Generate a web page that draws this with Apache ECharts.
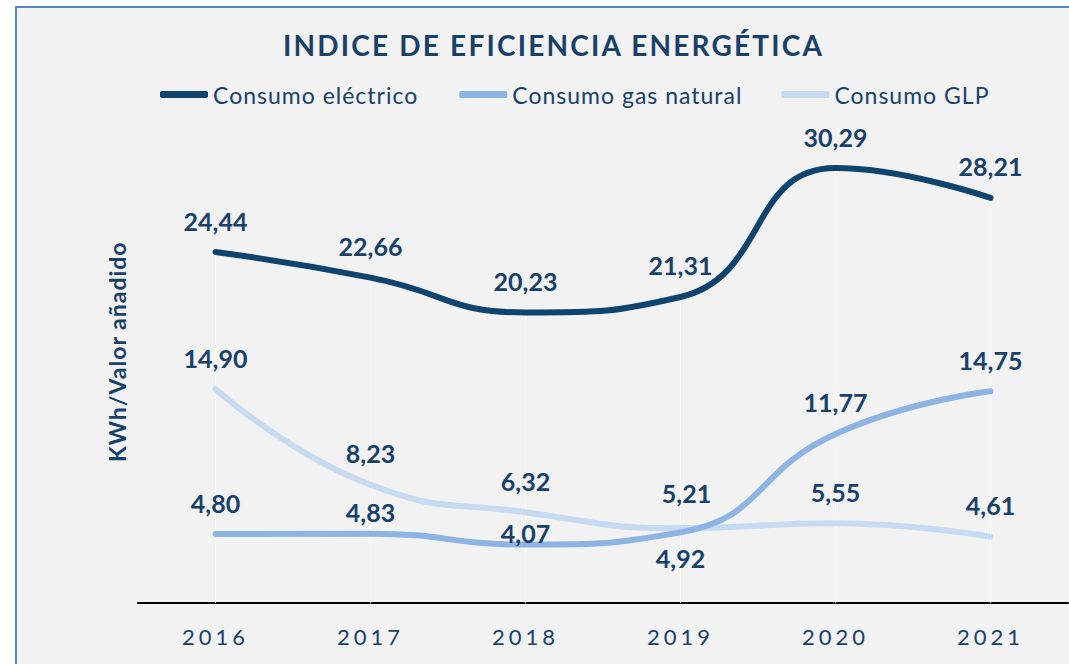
<!DOCTYPE html>
<html>
<head>
<meta charset="utf-8">
<title>Indice de eficiencia energética</title>
<script src="https://cdn.jsdelivr.net/npm/echarts@6/dist/echarts.min.js"></script>
<style>
    html, body { margin: 0; padding: 0; background: #ffffff; }
    #main { width: 1069px; height: 664px; }
</style>
</head>
<body>
<div id="main"></div>
<script>
    var years = ['2016', '2017', '2018', '2019', '2020', '2021'];
    var electrico = [24.44, 22.66, 20.23, 21.31, 30.29, 28.21];
    var gasNatural = [4.80, 4.83, 4.07, 4.92, 11.77, 14.75];
    var glp = [14.90, 8.23, 6.32, 5.21, 5.55, 4.61];

    var textColor = '#17406a';
    var fontName = 'Lato, "Noto Sans", sans-serif';
    var titleText = 'INDICE DE EFICIENCIA ENERGÉTICA';
    var yName = 'KWh/Valor añadido';
    var names = ['Consumo eléctrico', 'Consumo gas natural', 'Consumo GLP'];

    // etiquetas que no van encima del punto
    var labelTweaks = {
        gas: { 1: { distance: 8 }, 2: { distance: -2 }, 3: { position: 'bottom', distance: 12 } },
        glp: { 3: { distance: 22, offset: [6, 0] } }
    };

    function fmt(v) {
        return v.toFixed(2).replace('.', ',');
    }

    function buildData(values, tweaks) {
        return values.map(function (v, i) {
            var item = { value: v };
            if (tweaks && tweaks[i]) {
                item.label = tweaks[i];
            }
            return item;
        });
    }

    // lineas verticales desde la serie mas alta hasta el eje
    var dropLines = electrico.map(function (v, i) {
        return [{ coord: [i, v] }, { coord: [i, 0] }];
    });

    function lineSeries(name, values, color, tweaks, z) {
        return {
            name: name,
            type: 'line',
            smooth: 0.5,
            symbol: 'circle',
            symbolSize: 2,
            showSymbol: true,
            z: z,
            data: buildData(values, tweaks),
            lineStyle: { color: color, width: 6, cap: 'round' },
            itemStyle: { color: color },
            label: {
                show: true,
                position: 'top',
                distance: 18,
                color: textColor,
                fontFamily: fontName,
                fontWeight: 'bold',
                fontSize: 25,
                formatter: function (p) { return fmt(p.value); }
            }
        };
    }

    var chart = echarts.init(document.getElementById('main'), null, { renderer: 'svg' });

    var glpSeries = lineSeries(names[2], glp, '#c6daf1', labelTweaks.glp, 2);
    glpSeries.markLine = {
        silent: true,
        z: 1,
        symbol: 'none',
        label: { show: false },
        lineStyle: { type: 'solid', width: 1, color: 'rgba(255,255,255,0.85)' },
        data: dropLines
    };

    var option = {
        backgroundColor: '#ffffff',
        animation: false,
        graphic: [{
            type: 'rect',
            z: -10,
            shape: { x: 16, y: 7, width: 1200, height: 800 },
            style: { fill: '#f2f2f2', stroke: '#5585c5', lineWidth: 2 }
        }],
        title: {
            text: titleText,
            left: 278,
            top: 26,
            textStyle: {
                color: textColor,
                fontFamily: fontName,
                fontWeight: 'bold',
                fontSize: 28
            }
        },
        legend: {
            top: 78,
            left: 155,
            itemGap: 58,
            itemWidth: 48,
            itemHeight: 7,
            icon: 'roundRect',
            textStyle: {
                color: textColor,
                fontFamily: fontName,
                fontSize: 23
            },
            data: names
        },
        grid: {
            left: 138,
            right: 1,
            top: 100.4,
            bottom: 61,
            containLabel: false
        },
        xAxis: {
            type: 'category',
            data: years,
            boundaryGap: true,
            axisLine: { lineStyle: { color: '#000000', width: 2 } },
            axisTick: { show: false },
            axisLabel: {
                margin: 22,
                color: textColor,
                fontFamily: fontName,
                fontSize: 22
            },
            splitLine: { show: false }
        },
        yAxis: {
            type: 'value',
            min: 0,
            max: 35,
            name: yName,
            nameLocation: 'middle',
            nameGap: 10,
            nameTextStyle: {
                color: textColor,
                fontFamily: fontName,
                fontWeight: 'bold',
                fontSize: 23
            },
            axisLine: { show: false },
            axisTick: { show: false },
            axisLabel: { show: false },
            splitLine: { show: false }
        },
        series: [
            lineSeries(names[0], electrico, '#0f446e', null, 4),
            lineSeries(names[1], gasNatural, '#8db4e2', labelTweaks.gas, 3),
            glpSeries
        ]
    };

    // espaciado de letras del original (titulo, leyenda, eje y años)
    chart.on('finished', function () {
        var texts = document.querySelectorAll('#main text');
        for (var i = 0; i < texts.length; i++) {
            var t = texts[i].textContent;
            if (years.indexOf(t) >= 0) {
                texts[i].style.letterSpacing = '4px';
            } else if (t === titleText) {
                texts[i].style.letterSpacing = '2.2px';
            } else if (t === yName || names.indexOf(t) >= 0) {
                texts[i].style.letterSpacing = '1px';
            }
        }
    });

    chart.setOption(option);
</script>
</body>
</html>
